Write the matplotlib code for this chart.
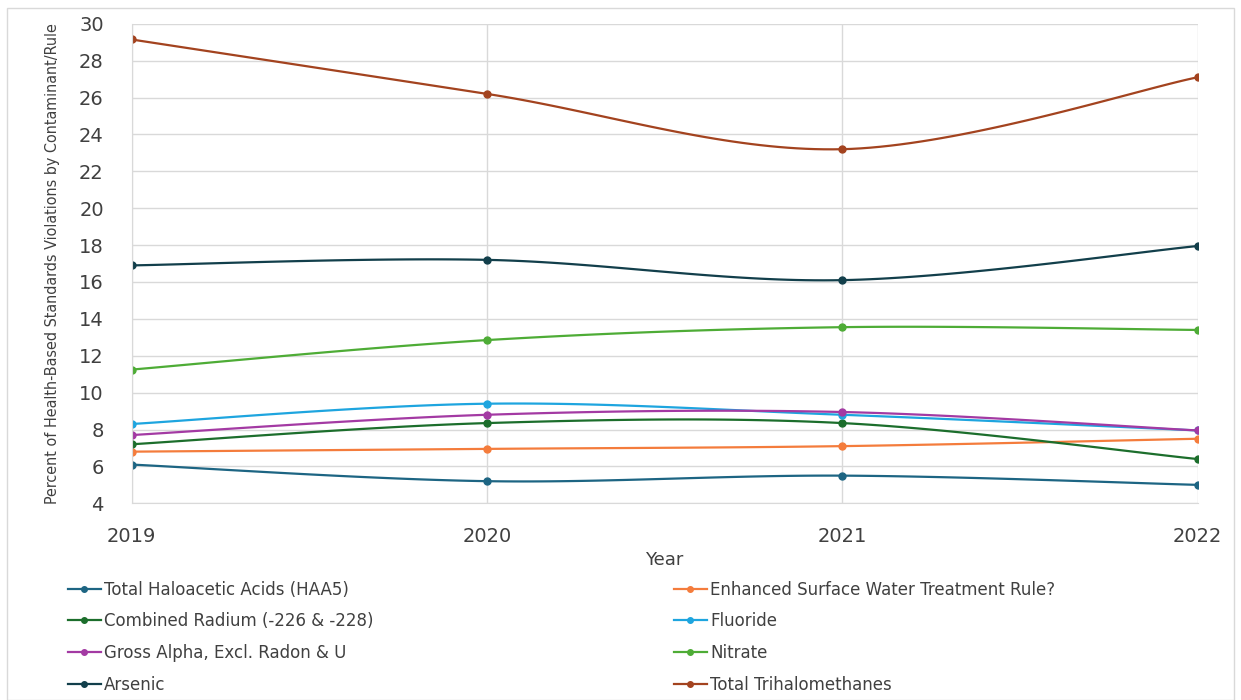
import numpy as np
import matplotlib.pyplot as plt
from matplotlib.patches import Rectangle
from matplotlib import font_manager

years = [2019, 2020, 2021, 2022]

haa5 = [6.1, 5.2, 5.5, 5.0]
eswtr = [6.8, 6.95, 7.1, 7.5]
radium = [7.2, 8.35, 8.35, 6.4]
fluoride = [8.3, 9.4, 8.8, 7.95]
gross_alpha = [7.7, 8.8, 8.95, 7.95]
nitrate = [11.25, 12.85, 13.55, 13.4]
arsenic = [16.9, 17.2, 16.1, 17.95]
tthm = [29.15, 26.2, 23.2, 27.1]

names = ['Total Haloacetic Acids (HAA5)', 'Enhanced Surface Water Treatment Rule?',
         'Combined Radium (-226 & -228)', 'Fluoride',
         'Gross Alpha, Excl. Radon & U', 'Nitrate',
         'Arsenic', 'Total Trihalomethanes']
series = [haa5, eswtr, radium, fluoride, gross_alpha, nitrate, arsenic, tthm]
colors = ['#1d6583', '#f47c3c', '#1c6e2c', '#1ea5df',
          '#a33aa3', '#4eac36', '#123f4b', '#a3431f']


# Excel-like smoothed line (cardinal spline through the data points)
def smooth(x, y, n=40, tension=0.5):
    x = np.asarray(x, float)
    y = np.asarray(y, float)
    px = np.concatenate([[x[0]], x, [x[-1]]])
    py = np.concatenate([[y[0]], y, [y[-1]]])
    xs, ys = [], []
    for i in range(1, len(px) - 2):
        t = np.linspace(0, 1, n)
        h00 = 2*t**3 - 3*t**2 + 1
        h10 = t**3 - 2*t**2 + t
        h01 = -2*t**3 + 3*t**2
        h11 = t**3 - t**2
        mx0 = tension * (px[i+1] - px[i-1])
        mx1 = tension * (px[i+2] - px[i])
        my0 = tension * (py[i+1] - py[i-1])
        my1 = tension * (py[i+2] - py[i])
        xs.append(h00*px[i] + h10*mx0 + h01*px[i+1] + h11*mx1)
        ys.append(h00*py[i] + h10*my0 + h01*py[i+1] + h11*my1)
    return np.concatenate(xs), np.concatenate(ys)


# look for a narrow/condensed font for the long y label
label_font = None
for f in font_manager.fontManager.ttflist:
    nm = f.name + ' ' + f.fname
    if ('Narrow' in nm or 'Condensed' in nm) and f.weight in (400, 'normal', 'regular') \
            and f.style == 'normal' and 'Semi' not in nm and 'Extra' not in nm:
        label_font = font_manager.FontProperties(fname=f.fname, size=11.5)
        break
if label_font is None:
    label_font = font_manager.FontProperties(family='Liberation Sans', size=10.5)

fig = plt.figure(figsize=(12.41, 7), dpi=100)
ax = fig.add_axes([0.106, 0.281, 0.859, 0.685])

handles = []
for vals, name, c in zip(series, names, colors):
    sx, sy = smooth(years, vals)
    ax.plot(sx, sy, color=c, linewidth=1.6)
    ax.plot(years, vals, 'o', color=c, markersize=5)
    h, = ax.plot([], [], '-o', color=c, markersize=4, linewidth=1.6, label=name)
    handles.append(h)

ax.set_xlim(2019, 2022)
ax.set_ylim(4, 30)
ax.set_xticks(years)
ax.set_xticklabels([str(y) for y in years])
ax.set_yticks(range(4, 31, 2))
ax.tick_params(axis='both', labelsize=14, colors='#404040', length=0)
ax.tick_params(axis='x', pad=17)
ax.tick_params(axis='y', pad=20)
ax.grid(True, color='#d9d9d9', linewidth=1)
ax.set_axisbelow(True)
for s in ['top', 'right']:
    ax.spines[s].set_visible(False)
for s in ['left', 'bottom']:
    ax.spines[s].set_color('#d9d9d9')

ax.set_xlabel('Year', fontsize=13, color='#404040', labelpad=4)
ax.set_ylabel('Percent of Health-Based Standards Violations by Contaminant/Rule',
              fontproperties=label_font, color='#404040', labelpad=14)

# legend filled row by row like the original
order = [0, 2, 4, 6, 1, 3, 5, 7]
ax.legend([handles[i] for i in order], [names[i] for i in order],
          loc='upper left', bbox_to_anchor=(-0.074, -0.13), ncol=2, frameon=False,
          fontsize=12, handlelength=2.0, handletextpad=0.2, columnspacing=18.0,
          labelspacing=0.82, labelcolor='#404040')

fig.patches.append(Rectangle((0.006, 0.0), 0.988, 0.988, transform=fig.transFigure,
                             fill=False, edgecolor='#d9d9d9', linewidth=1))

fig.savefig('out.png', dpi=100)
